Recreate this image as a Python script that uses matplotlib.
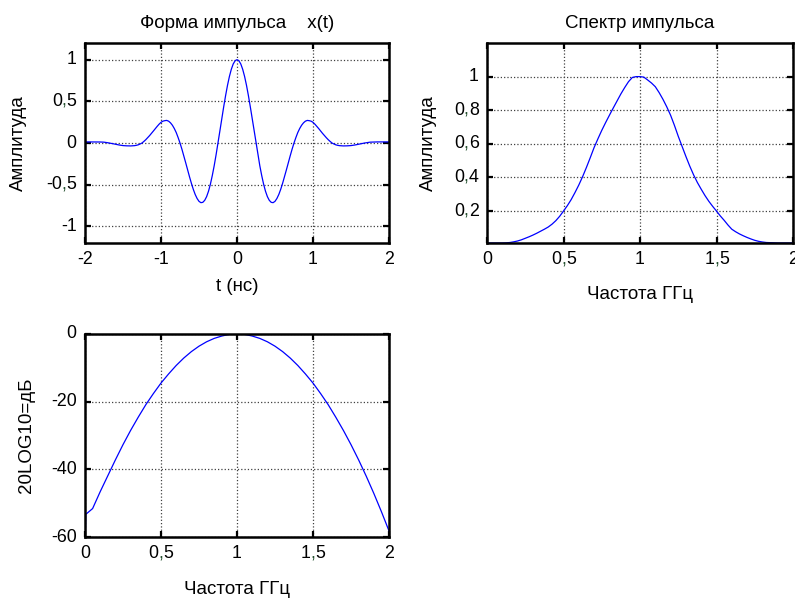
import numpy as np
import matplotlib
matplotlib.use("Agg")
import matplotlib.pyplot as plt
from matplotlib.offsetbox import TextArea, HPacker, AnnotationBbox

plt.rcParams['font.family'] = ['Liberation Sans', 'DejaVu Sans']

# ---- data -------------------------------------------------------------
t_ns = np.linspace(-2.0, 2.0, 161)
pulse_neg = [
    0.013, 0.013, 0.013, 0.013, 0.013, 0.013, 0.013, 0.013, 0.012, 0.011,
    0.010, 0.007, 0.003, -0.001, -0.006, -0.010, -0.015, -0.020, -0.024, -0.028,
    -0.031, -0.033, -0.034, -0.035, -0.035, -0.034, -0.032, -0.028, -0.022, -0.012,
    0.000, 0.019, 0.040, 0.064, 0.089, 0.116, 0.144, 0.173, 0.200, 0.226,
    0.248, 0.262, 0.268, 0.271, 0.262, 0.242, 0.213, 0.174, 0.126, 0.066,
    0.000, -0.074, -0.154, -0.237, -0.322, -0.405, -0.484, -0.556, -0.618, -0.666,
    -0.700, -0.716, -0.712, -0.688, -0.644, -0.579, -0.494, -0.390, -0.272, -0.140,
    0.000, 0.146, 0.292, 0.435, 0.569, 0.692, 0.798, 0.884, 0.948, 0.987,
]
pulse_pos = [
    1.000, 0.987, 0.948, 0.884, 0.798, 0.692, 0.569, 0.435, 0.292, 0.146,
    0.000, -0.140, -0.272, -0.390, -0.494, -0.579, -0.644, -0.688, -0.712, -0.716,
    -0.700, -0.666, -0.618, -0.556, -0.484, -0.405, -0.322, -0.237, -0.154, -0.074,
    0.000, 0.066, 0.126, 0.174, 0.213, 0.242, 0.262, 0.271, 0.268, 0.262,
    0.248, 0.226, 0.200, 0.173, 0.144, 0.116, 0.089, 0.064, 0.040, 0.019,
    0.000, -0.012, -0.022, -0.028, -0.032, -0.034, -0.035, -0.035, -0.034, -0.033,
    -0.031, -0.028, -0.024, -0.020, -0.015, -0.010, -0.006, -0.001, 0.003, 0.007,
    0.010, 0.011, 0.012, 0.013, 0.013, 0.013, 0.013, 0.013, 0.013, 0.013,
    0.013,
]
pulse = pulse_neg + pulse_pos

freq_ghz = np.linspace(0.0, 2.0, 81)
spectrum = [
    0.010, 0.010, 0.010, 0.010, 0.010, 0.011, 0.013, 0.017, 0.022, 0.029,
    0.038, 0.047, 0.057, 0.068, 0.080, 0.092, 0.105, 0.122, 0.143, 0.169,
    0.200, 0.232, 0.268, 0.310, 0.355, 0.405, 0.460, 0.518, 0.578, 0.630,
    0.680, 0.726, 0.770, 0.813, 0.855, 0.897, 0.935, 0.970, 0.995, 1.000,
    1.000, 0.997, 0.980, 0.962, 0.940, 0.905, 0.865, 0.820, 0.770, 0.710,
    0.645, 0.585, 0.525, 0.468, 0.416, 0.370, 0.330, 0.292, 0.258, 0.228,
    0.200, 0.171, 0.145, 0.117, 0.092, 0.077, 0.064, 0.053, 0.043, 0.034,
    0.026, 0.020, 0.016, 0.013, 0.012, 0.011, 0.010, 0.010, 0.010, 0.010,
    0.010,
]

freq_db = np.concatenate(([0.0, 0.005], np.linspace(0.05, 2.0, 40)))
spectrum_db = [
    -64.0, -53.3, -51.6, -46.6, -41.9, -37.2, -32.7, -28.5, -24.6, -20.9,
    -17.6, -14.5, -11.8, -9.3, -7.1, -5.2, -3.6, -2.3, -1.3, -0.6,
    -0.1, 0.0, -0.1, -0.6, -1.3, -2.3, -3.6, -5.2, -7.1, -9.3,
    -11.8, -14.5, -17.6, -20.9, -24.6, -28.5, -32.7, -37.2, -42.0, -47.1,
    -52.5, -58.2,
]

t_ticks = [-2, -1, 0, 1, 2]
t_labels = ['-2', '-1', '0', '1', '2']
amp_ticks = [-1, -0.5, 0, 0.5, 1]
amp_labels = ['-1', '-0,5', '0', '0,5', '1']
f_ticks = [0, 0.5, 1, 1.5, 2]
f_labels = ['0', '0,5', '1', '1,5', '2']
spec_ticks = [0.2, 0.4, 0.6, 0.8, 1.0]
spec_labels = ['0,2', '0,4', '0,6', '0,8', '1']
db_ticks = [-60, -40, -20, 0]
db_labels = ['-60', '-40', '-20', '0']

# ---- style ------------------------------------------------------------
W, H = 795, 599
LINE = '#0000ff'
COMMA = '#24502f'
TICK_FS = 12.8
LABEL_FS = 13.5


def pos(left, top, right, bottom):
    return [left / W, 1 - bottom / H, (right - left) / W, (bottom - top) / H]


def label_box(text):
    parts = []
    chunk = ''
    for ch in text:
        if ch == ',':
            if chunk:
                parts.append(TextArea(chunk, textprops=dict(fontsize=TICK_FS, color='black')))
                chunk = ''
            parts.append(TextArea(',', textprops=dict(fontsize=TICK_FS, color=COMMA)))
        else:
            chunk += ch
    if chunk:
        parts.append(TextArea(chunk, textprops=dict(fontsize=TICK_FS, color='black')))
    return HPacker(children=parts, align='baseline', pad=0, sep=0)


def tick_labels(ax, ticks, labels, axis):
    for v, s in zip(ticks, labels):
        if axis == 'y':
            ab = AnnotationBbox(label_box(s), (0, v), xycoords=ax.get_yaxis_transform(),
                                xybox=(-6, 0), boxcoords='offset points',
                                box_alignment=(1, 0.5), frameon=False, pad=0)
        else:
            ab = AnnotationBbox(label_box(s), (v, 0), xycoords=ax.get_xaxis_transform(),
                                xybox=(0, -6), boxcoords='offset points',
                                box_alignment=(0.5, 1), frameon=False, pad=0)
        ab.set_clip_on(False)
        ax.add_artist(ab)


def style(ax, xticks, yticks):
    ax.set_xticks(xticks)
    ax.set_yticks(yticks)
    ax.tick_params(direction='in', top=True, right=True, length=4, width=1.6,
                   labelbottom=False, labelleft=False)
    ax.grid(True, linestyle=':', color='0.25', linewidth=0.9)
    for sp in ax.spines.values():
        sp.set_linewidth(1.8)
        sp.set_color('black')


fig = plt.figure(figsize=(W / 100, H / 100), dpi=100)

# pulse shape
ax1 = fig.add_axes(pos(85, 43, 389, 243))
ax1.plot(t_ns, pulse, color=LINE, linewidth=0.9)
ax1.set_xlim(-2, 2)
ax1.set_ylim(-1.2, 1.2)
style(ax1, t_ticks, amp_ticks)
tick_labels(ax1, t_ticks, t_labels, 'x')
tick_labels(ax1, amp_ticks, amp_labels, 'y')
ax1.text(0.5, 1.10, 'Форма импульса    x(t)', transform=ax1.transAxes,
         ha='center', va='center', fontsize=LABEL_FS)
ax1.text(0.5, -0.22, 't (нс)', transform=ax1.transAxes,
         ha='center', va='center', fontsize=LABEL_FS)
ax1.text(-0.22, 0.5, 'Амплитуда', transform=ax1.transAxes, rotation=90,
         ha='center', va='center', fontsize=LABEL_FS)

# spectrum magnitude
ax2 = fig.add_axes(pos(487, 43, 793, 243))
ax2.plot(freq_ghz, spectrum, color=LINE, linewidth=0.9)
ax2.set_xlim(0, 2)
ax2.set_ylim(0.01, 1.2)
style(ax2, f_ticks, spec_ticks)
tick_labels(ax2, f_ticks, f_labels, 'x')
tick_labels(ax2, spec_ticks, spec_labels, 'y')
ax2.text(0.5, 1.10, 'Спектр импульса', transform=ax2.transAxes,
         ha='center', va='center', fontsize=LABEL_FS)
ax2.text(0.5, -0.26, 'Частота ГГц', transform=ax2.transAxes,
         ha='center', va='center', fontsize=LABEL_FS)
ax2.text(-0.192, 0.5, 'Амплитуда', transform=ax2.transAxes, rotation=90,
         ha='center', va='center', fontsize=LABEL_FS)

# spectrum in dB
ax3 = fig.add_axes(pos(85, 334, 389, 537))
ax3.plot(freq_db, spectrum_db, color=LINE, linewidth=0.9)
ax3.set_xlim(0, 2)
ax3.set_ylim(-60, 0)
style(ax3, f_ticks, db_ticks)
tick_labels(ax3, f_ticks, f_labels, 'x')
tick_labels(ax3, db_ticks, db_labels, 'y')
ax3.text(0.5, -0.261, 'Частота ГГц', transform=ax3.transAxes,
         ha='center', va='center', fontsize=LABEL_FS)
ax3.text(-0.191, 0.5, '20LOG10=дБ', transform=ax3.transAxes, rotation=90,
         ha='center', va='center', fontsize=LABEL_FS)

fig.savefig('out.png', dpi=100)
